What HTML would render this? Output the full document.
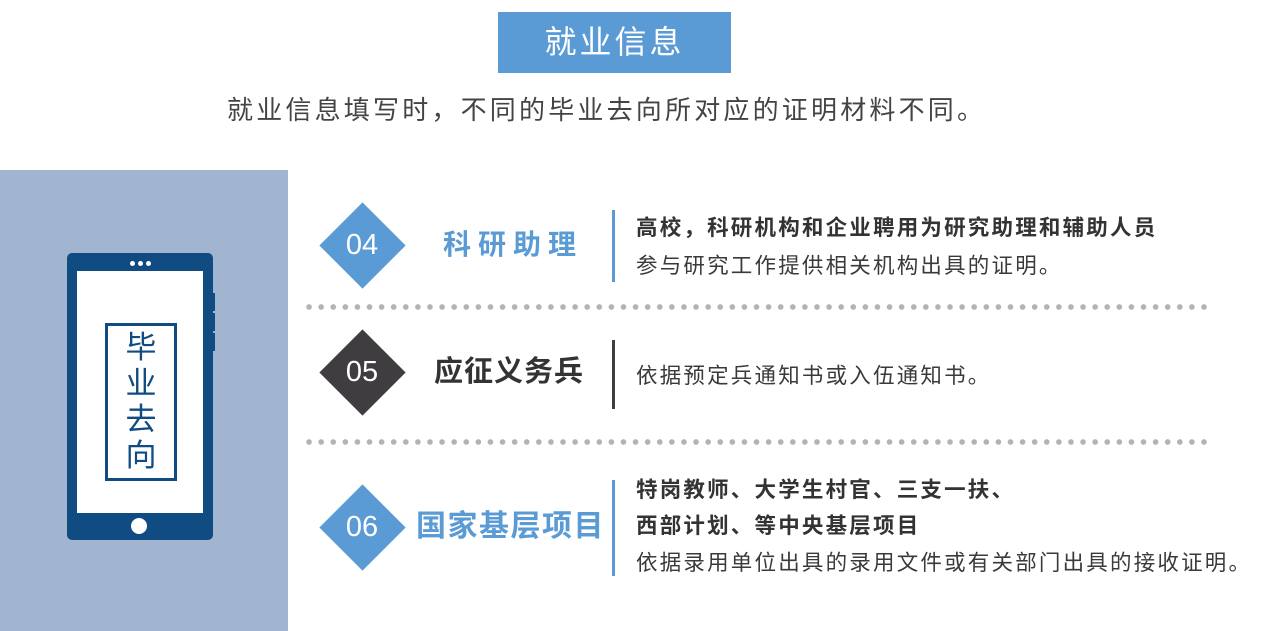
<!DOCTYPE html>
<html><head><meta charset="utf-8"><style>
body{margin:0;width:1269px;height:631px;background:#fff;position:relative;overflow:hidden;font-family:"Liberation Sans","Noto Sans CJK SC",sans-serif;}
.a{position:absolute;white-space:nowrap;line-height:1;}
.dia{position:absolute;width:61px;height:61px;transform:rotate(45deg);}
.num{position:absolute;width:86px;text-align:center;color:#fff;font-size:29px;line-height:1;}
.bar{position:absolute;width:3px;left:612px;}
.dots{position:absolute;left:303px;width:912px;height:6px;background-image:radial-gradient(circle,#b3b3b3 2.6px,transparent 3px);background-size:12.1px 6px;}
.t{position:absolute;left:636px;font-size:21.5px;color:#3a3a3a;white-space:nowrap;line-height:1;letter-spacing:2.2px}
.b{font-weight:bold;color:#333}
</style></head><body>
<div class="a" style="left:498px;top:12px;width:233px;height:61px;background:#5b9bd5;"></div>
<div class="a" style="left:498px;top:26px;width:233px;text-align:center;color:#fff;font-size:32px;letter-spacing:3px">就业信息</div>
<div class="a" style="left:227px;top:97px;font-size:26px;color:#444;letter-spacing:3.2px">就业信息填写时，不同的毕业去向所对应的证明材料不同。</div>

<div class="a" style="left:0;top:170px;width:288px;height:461px;background:#a2b5d0"></div>
<div class="a" style="left:67px;top:253px;width:146px;height:287px;background:#104c82;border-radius:5px"></div>
<div class="a" style="left:212px;top:293px;width:3px;height:18px;background:#104c82"></div>
<div class="a" style="left:212px;top:313px;width:3px;height:18px;background:#104c82"></div>
<div class="a" style="left:212px;top:333px;width:3px;height:18px;background:#104c82"></div>
<div class="a" style="left:77px;top:271px;width:126px;height:242px;background:#fff"></div>
<div class="a" style="left:130px;top:261px;width:5px;height:5px;border-radius:50%;background:#fff"></div>
<div class="a" style="left:138px;top:261px;width:5px;height:5px;border-radius:50%;background:#fff"></div>
<div class="a" style="left:146px;top:261px;width:5px;height:5px;border-radius:50%;background:#fff"></div>
<div class="a" style="left:131px;top:518px;width:16px;height:16px;border-radius:50%;background:#fff"></div>
<div class="a" style="left:105px;top:323px;width:66px;height:152px;border:3px solid #104c82"></div>
<div class="a" style="left:105px;top:330px;width:72px;text-align:center;color:#104c82;font-size:31px;line-height:36px;white-space:normal">毕<br>业<br>去<br>向</div>

<div class="dia" style="left:332px;top:215px;background:#5b9bd5"></div>
<div class="num" style="left:319px;top:231px">04</div>
<div class="a" style="left:443px;top:231px;font-size:28px;font-weight:bold;color:#5b9bd5;letter-spacing:7px">科研助理</div>
<div class="bar" style="top:210px;height:72px;background:#5b9bd5"></div>
<div class="t b" style="top:218px">高校，科研机构和企业聘用为研究助理和辅助人员</div>
<div class="t" style="top:256px">参与研究工作提供相关机构出具的证明。</div>

<div class="dots" style="top:304px;width:910px"></div>

<div class="dia" style="left:332px;top:342px;background:#403d40"></div>
<div class="num" style="left:319px;top:358px">05</div>
<div class="a" style="left:434px;top:358px;font-size:29px;font-weight:bold;color:#333;letter-spacing:1px">应征义务兵</div>
<div class="bar" style="top:340px;height:69px;background:#403d40"></div>
<div class="t" style="top:366px">依据预定兵通知书或入伍通知书。</div>

<div class="dots" style="top:439px;width:910px"></div>

<div class="dia" style="left:332px;top:497px;background:#5b9bd5"></div>
<div class="num" style="left:319px;top:513px">06</div>
<div class="a" style="left:416px;top:512px;font-size:30px;font-weight:bold;color:#5b9bd5;letter-spacing:1.5px">国家基层项目</div>
<div class="bar" style="top:480px;height:96px;background:#5b9bd5"></div>
<div class="t b" style="top:480px">特岗教师、大学生村官、三支一扶、</div>
<div class="t b" style="top:516px">西部计划、等中央基层项目</div>
<div class="t" style="top:553px">依据录用单位出具的录用文件或有关部门出具的接收证明。</div>
</body></html>
